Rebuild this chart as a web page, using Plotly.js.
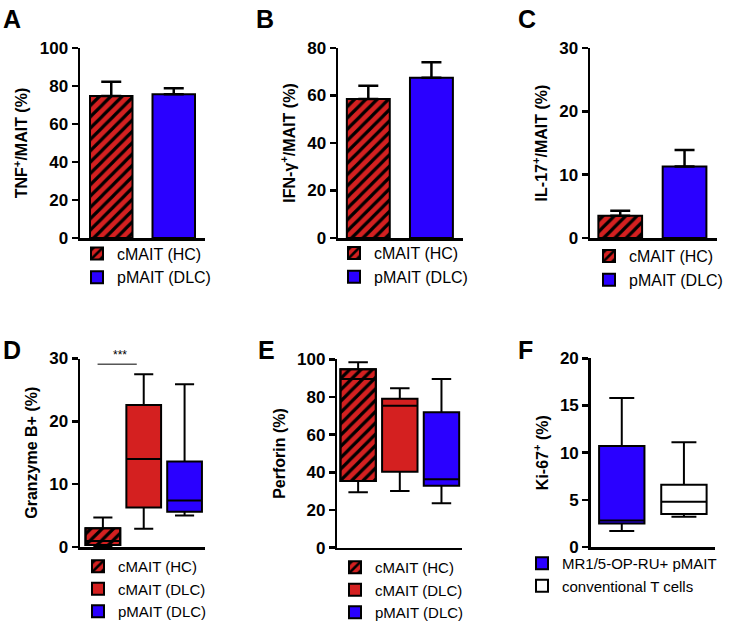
<!DOCTYPE html>
<html>
<head>
<meta charset="utf-8">
<script src="https://cdn.plot.ly/plotly-3.0.1.min.js"></script>
<style>html,body{margin:0;padding:0;background:#fff;overflow:hidden}#chart{width:750px;height:625px}</style>
</head>
<body>
<div id="chart"></div>
<script>
// ---- data ----
const barCats = ["cMAIT (HC)", "pMAIT (DLC)"];
const tnfMean = [74.7, 75.6];
const tnfErr = [7.5, 3.2];
const ifnMean = [58.5, 67.5];
const ifnErr = [5.6, 6.5];
const il17Mean = [3.5, 11.3];
const il17Err = [0.8, 2.6];

const boxCats = ["cMAIT (HC)", "cMAIT (DLC)", "pMAIT (DLC)"];
const gzbQ1 = [0.3, 6.3, 5.6];
const gzbMed = [0.96, 14.0, 7.4];
const gzbQ3 = [3.0, 22.6, 13.6];
const gzbLo = [0.0, 2.9, 5.0];
const gzbHi = [4.7, 27.5, 25.9];

const prfQ1 = [35.4, 40.3, 32.9];
const prfMed = [89.5, 75.4, 36.3];
const prfQ3 = [94.7, 79.1, 71.9];
const prfLo = [29.4, 30.1, 23.6];
const prfHi = [98.4, 84.6, 89.5];

const kiCats = ["MR1/5-OP-RU+ pMAIT", "conventional T cells"];
const kiQ1 = [2.5, 3.5];
const kiMed = [2.8, 4.8];
const kiQ3 = [10.7, 6.6];
const kiLo = [1.7, 3.2];
const kiHi = [15.8, 11.1];

const sigLabel = "***";

// ---- styles ----
const RED = "#d42020", BLUE = "#2a00ff", WHITE = "#ffffff";
const hatch = {shape: "/", bgcolor: RED, fgcolor: "#000", size: 8, solidity: 0.4, fillmode: "replace"};
const FONT = "Arial, 'Liberation Sans', sans-serif";

const traces = [];

function barPanel(means, errs, xa, ya, lg) {
  const fills = [{color: RED, pattern: hatch}, {color: BLUE}];
  for (let i = 0; i < barCats.length; i++) {
    traces.push({
      type: "bar", x: [barCats[i]], y: [means[i]], name: barCats[i],
      xaxis: xa, yaxis: ya, legend: lg, width: 0.68,
      marker: Object.assign({line: {color: "#000", width: 2}}, fills[i]),
      error_y: {type: "data", symmetric: false, array: [errs[i]], arrayminus: [0],
                color: "#000", thickness: 2.5, width: 10},
      hoverinfo: "skip"
    });
  }
}
barPanel(tnfMean, tnfErr, "x", "y", "legend");
barPanel(ifnMean, ifnErr, "x2", "y2", "legend2");
barPanel(il17Mean, il17Err, "x3", "y3", "legend3");

function boxPanel(cats, q1, med, q3, lo, hi, fills, hatchIdx, xa, ya, lg, bw) {
  for (let i = 0; i < cats.length; i++) {
    if (i === hatchIdx) {
      traces.push({
        type: "bar", x: [cats[i]], base: [q1[i]], y: [q3[i] - q1[i]], name: cats[i],
        xaxis: xa, yaxis: ya, legend: lg, width: bw,
        marker: {color: RED, pattern: hatch, line: {color: "#000", width: 2}},
        hoverinfo: "skip"
      });
    }
  }
  for (let i = 0; i < cats.length; i++) {
    traces.push({
      type: "box", x: [cats[i]], q1: [q1[i]], median: [med[i]], q3: [q3[i]],
      lowerfence: [lo[i]], upperfence: [hi[i]], name: cats[i],
      xaxis: xa, yaxis: ya, legend: lg, width: bw, whiskerwidth: 0.55,
      boxpoints: false, showlegend: i !== hatchIdx,
      fillcolor: i === hatchIdx ? "rgba(0,0,0,0)" : fills[i],
      line: {color: "#000", width: 2}, hoverinfo: "skip"
    });
  }
}
boxPanel(boxCats, gzbQ1, gzbMed, gzbQ3, gzbLo, gzbHi, [RED, RED, BLUE], 0, "x4", "y4", "legend4", 0.85);
boxPanel(boxCats, prfQ1, prfMed, prfQ3, prfLo, prfHi, [RED, RED, BLUE], 0, "x5", "y5", "legend5", 0.85);
boxPanel(kiCats, kiQ1, kiMed, kiQ3, kiLo, kiHi, [BLUE, WHITE], -1, "x6", "y6", "legend6", 0.73);

// ---- layout ----
const W = 750, H = 625;
const px = (a, b) => [a / W, b / W];
const py = (top, bottom) => [1 - bottom / H, 1 - top / H];

function xax(dom, range, anchor) {
  return {domain: dom, anchor: anchor, type: "category", range: range, showline: true, linewidth: 2.5,
          linecolor: "#000", ticks: "", showticklabels: false, showgrid: false,
          zeroline: false, fixedrange: true};
}
function yax(dom, range, dtick, title, anchor) {
  return {domain: dom, anchor: anchor, range: range, dtick: dtick, showline: true, linewidth: 2.5,
          linecolor: "#000", ticks: "outside", ticklen: 6, tickwidth: 2.5, tickcolor: "#000",
          showgrid: false, zeroline: false, fixedrange: true, automargin: false,
          tickfont: {family: FONT, size: 17, weight: "bold", color: "#000"},
          title: {text: title, font: {family: FONT, size: 16, weight: "bold", color: "#000"}, standoff: 8}};
}
function leg(xpx, ypx, fs) {
  return {x: xpx / W, y: 1 - ypx / H, xanchor: "left", yanchor: "top",
          bgcolor: "rgba(0,0,0,0)", font: {family: FONT, size: fs, color: "#000"},
          traceorder: "normal", itemclick: false, itemdoubleclick: false, tracegroupgap: 0};
}
function letter(t, xpx, ypx) {
  return {text: "<b>" + t + "</b>", xref: "paper", yref: "paper", x: xpx / W, y: 1 - ypx / H,
          xanchor: "left", yanchor: "middle", showarrow: false,
          font: {family: FONT, size: 25, color: "#000"}};
}

const layout = {
  width: W, height: H, margin: {l: 0, r: 0, t: 0, b: 0, autoexpand: false},
  paper_bgcolor: "#fff", plot_bgcolor: "rgba(0,0,0,0)",
  barmode: "overlay", boxmode: "overlay", showlegend: true,
  font: {family: FONT, color: "#000"},
  xaxis: xax(px(80, 205), [-0.5, 1.5], "y"),
  yaxis: yax(py(48, 238), [0, 100], 20, "TNF<sup>+</sup>/MAIT (%)", "x"),
  xaxis2: xax(px(338, 463), [-0.48, 1.5], "y2"),
  yaxis2: yax(py(48, 238), [0, 80], 20, "IFN-γ<sup>+</sup>/MAIT (%)", "x2"),
  xaxis3: xax(px(590, 716.7), [-0.47, 1.5], "y3"),
  yaxis3: yax(py(48, 238), [0, 30], 10, "IL-17<sup>+</sup>/MAIT (%)", "x3"),
  xaxis4: xax(px(80, 205), [-0.56, 2.5], "y4"),
  yaxis4: yax(py(358.5, 547), [0, 30], 10, "Granzyme B+ (%)", "x4"),
  xaxis5: xax(px(337.3, 462.3), [-0.5, 2.5], "y5"),
  yaxis5: yax(py(359.3, 547.7), [0, 100], 20, "Perforin (%)", "x5"),
  xaxis6: xax(px(590.7, 715), [-0.5, 1.5], "y6"),
  yaxis6: yax(py(358.3, 547), [0, 20], 5, "Ki-67<sup>+</sup> (%)", "x6"),
  legend: leg(77, 236.5, 16),
  legend2: leg(334, 236, 16),
  legend3: leg(589, 239, 16),
  legend4: leg(78, 550, 15),
  legend5: leg(335, 551, 15),
  legend6: leg(522, 547, 15),
  annotations: [
    letter("A", 1, 19), letter("B", 254, 19), letter("C", 516, 19),
    letter("D", 1, 350), letter("E", 256, 350), letter("F", 516, 350),
    {text: sigLabel, xref: "x4", yref: "y4", x: 0.42, y: 29.1, xanchor: "center", yanchor: "bottom",
     showarrow: false, font: {family: FONT, size: 12, color: "#000"}}
  ],
  shapes: [
    {type: "line", xref: "x4", yref: "y4", x0: -0.13, x1: 0.83, y0: 29.1, y1: 29.1,
     line: {color: "#000", width: 1}}
  ]
};

Plotly.newPlot("chart", traces, layout, {staticPlot: true, displayModeBar: false});
</script>
</body>
</html>
